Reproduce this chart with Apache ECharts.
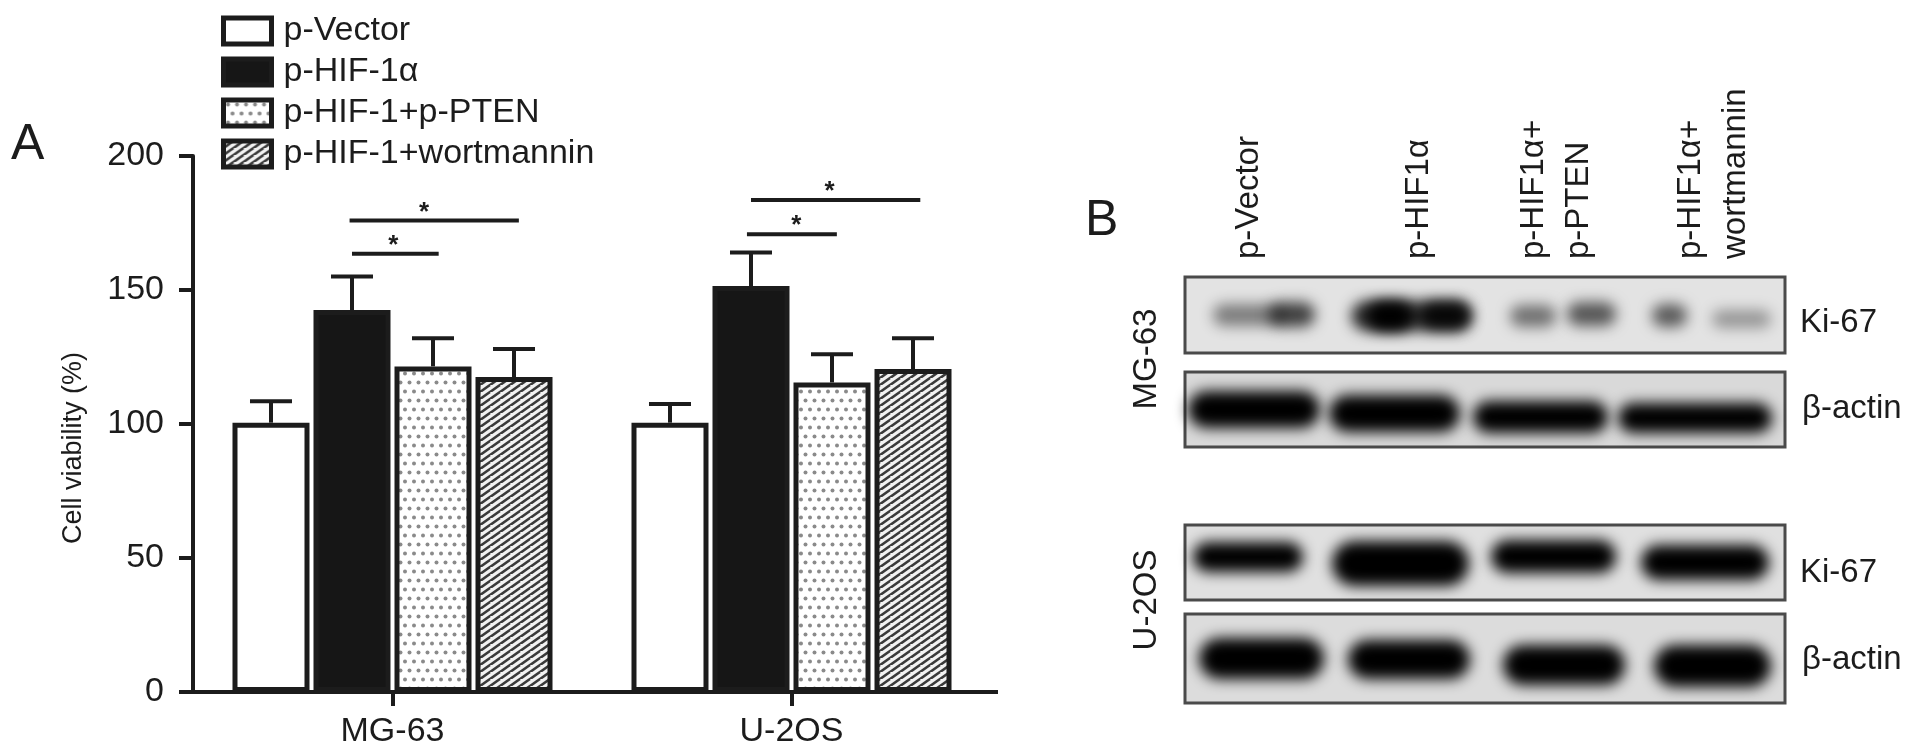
<!DOCTYPE html>
<html>
<head>
<meta charset="utf-8">
<style>html,body{margin:0;padding:0;background:#fff}#c{width:1913px;height:756px}</style>
<script src="https://cdn.jsdelivr.net/npm/echarts@6/dist/echarts.min.js"></script>
</head>
<body>
<div id="c"></div>
<script>
const FONT = '"Liberation Sans", Arial, sans-serif';
const INK = '#1c1c1c';

const categories = ['MG-63', 'U-2OS'];
const seriesNames = ['p-Vector', 'p-HIF-1α', 'p-HIF-1+p-PTEN', 'p-HIF-1+wortmannin'];
const vectorValues = [100.5, 100.5];
const hifValues = [142.5, 151.5];
const ptenValues = [121.5, 115.5];
const wortValues = [117.5, 120.5];
const vectorTops = [108.5, 107.5];
const hifTops = [155, 164];
const ptenTops = [132, 126];
const wortTops = [128, 132];
// [category, fromBar, toBar, value, starBar]
const sigLines = [
  [0, 1.00, 2.07, 163.5, 1.51],
  [0, 0.97, 3.06, 175.9, 1.89],
  [1, 0.95, 2.06, 170.8, 1.56],
  [1, 1.00, 3.09, 183.6, 1.97]
];
// Western blot frames: [x0, y0, x1, y1, grey]
const blotFrames = [
  [0, 0, 600, 76, '#e3e3e3'],
  [0, 95, 600, 170, '#d9d9d9'],
  [0, 248, 600, 323, '#e0e0e0'],
  [0, 337, 600, 426, '#dcdcdc']
];
// Western blot bands: [x0, y0, x1, y1, darkness]
const blotBands = [
  [28, 27, 98, 49, 0.45], [84, 25, 130, 50, 0.72],
  [166, 24, 286, 54, 0.8], [182, 24, 228, 54, 1], [236, 25, 286, 52, 0.85],
  [325, 28, 371, 50, 0.5], [382, 25, 431, 49, 0.62],
  [467, 27, 502, 50, 0.6], [527, 33, 586, 51, 0.34],
  [3, 114, 135, 151, 1], [144, 118, 275, 155, 1], [288, 124, 423, 156, 1], [433, 126, 587, 156, 1],
  [8, 265, 118, 295, 1], [147, 264, 284, 309, 1], [306, 263, 431, 296, 1], [456, 268, 584, 303, 1],
  [14, 361, 139, 402, 1], [163, 363, 285, 402, 1], [318, 368, 440, 408, 1], [469, 368, 586, 410, 1]
];

function dotTile() {
  const c = document.createElement('canvas'); c.width = 18; c.height = 18;
  const g = c.getContext('2d');
  g.fillStyle = '#fff'; g.fillRect(0, 0, 18, 18);
  g.fillStyle = '#8a8a8a';
  [[4.5, 4.5], [13.5, 4.5], [0, 13.5], [9, 13.5], [18, 13.5]].forEach(p => {
    g.beginPath(); g.arc(p[0], p[1], 2, 0, 7); g.fill();
  });
  return c;
}
function hatchTile() {
  const w = 10, h = 7;
  const c = document.createElement('canvas'); c.width = w; c.height = h;
  const g = c.getContext('2d');
  g.fillStyle = '#f2f2f2'; g.fillRect(0, 0, w, h);
  g.strokeStyle = '#3a3a3a'; g.lineWidth = 2.6;
  for (let k = -2; k <= 2; k++) {
    g.beginPath(); g.moveTo(k * w - w, h + h); g.lineTo(k * w + w, 0); g.stroke();
  }
  return c;
}

const fills = ['#ffffff', '#161616', { image: dotTile(), repeat: 'repeat' }, { image: hatchTile(), repeat: 'repeat' }];
const valueSets = [vectorValues, hifValues, ptenValues, wortValues];
const topSets = [vectorTops, hifTops, ptenTops, wortTops];
const BAR = { barWidth: 77, barGap: '5.2%' };

const barSeries = seriesNames.map((n, i) => ({
  name: n, type: 'bar', xAxisIndex: 0, yAxisIndex: 0, barWidth: BAR.barWidth, barGap: BAR.barGap,
  data: valueSets[i],
  itemStyle: { color: fills[i], borderColor: INK, borderWidth: 5 },
  z: 2
}));

const errorSeries = topSets.map((tops, i) => ({
  type: 'custom', xAxisIndex: 0, yAxisIndex: 0, silent: true, z: 1,
  data: tops.map((t, c) => [c, valueSets[i][c], t]),
  renderItem(p, api) {
    const lay = api.barLayout({ count: 4, barWidth: BAR.barWidth, barGap: BAR.barGap });
    const base = api.coord([api.value(0), api.value(1)]);
    const top = api.coord([api.value(0), api.value(2)]);
    const x = base[0] + lay[i].offsetCenter;
    const st = { stroke: INK, lineWidth: 4, fill: null };
    return { type: 'group', children: [
      { type: 'line', shape: { x1: x, y1: base[1], x2: x, y2: top[1] }, style: st },
      { type: 'line', shape: { x1: x - 21, y1: top[1], x2: x + 21, y2: top[1] }, style: st }
    ] };
  }
}));

const sigSeries = {
  type: 'custom', xAxisIndex: 0, yAxisIndex: 0, silent: true, z: 3,
  data: sigLines,
  renderItem(p, api) {
    const lay = api.barLayout({ count: 4, barWidth: BAR.barWidth, barGap: BAR.barGap });
    const pitch = lay[1].offsetCenter - lay[0].offsetCenter;
    const pt = api.coord([api.value(0), api.value(3)]);
    const at = b => pt[0] + lay[0].offsetCenter + b * pitch;
    return { type: 'group', children: [
      { type: 'line', shape: { x1: at(api.value(1)), y1: pt[1], x2: at(api.value(2)), y2: pt[1] },
        style: { stroke: INK, lineWidth: 4, fill: null } },
      { type: 'text', x: at(api.value(4)), y: pt[1] + 5,
        style: { text: '*', font: 'bold 26px ' + FONT, fill: INK, align: 'center', verticalAlign: 'bottom' } }
    ] };
  }
};

const frameSeries = {
  type: 'custom', xAxisIndex: 1, yAxisIndex: 1, silent: true, z: 1,
  data: blotFrames,
  renderItem(p, api) {
    const a = api.coord([api.value(0), api.value(1)]);
    const b = api.coord([api.value(2), api.value(3)]);
    return { type: 'rect', shape: { x: a[0], y: a[1], width: b[0] - a[0], height: b[1] - a[1] },
      style: { fill: blotFrames[p.dataIndex][4], stroke: '#4a4a4a', lineWidth: 3 } };
  }
};
const SHIFT = 4000;
const bandSeries = {
  type: 'custom', xAxisIndex: 1, yAxisIndex: 1, silent: true, z: 2,
  data: blotBands,
  renderItem(p, api) {
    const a = api.coord([api.value(0), api.value(1)]);
    const b = api.coord([api.value(2), api.value(3)]);
    const w = b[0] - a[0], h = b[1] - a[1];
    return { type: 'rect',
      shape: { x: a[0] - SHIFT, y: a[1], width: w, height: h, r: h / 2 },
      style: { fill: '#000', shadowBlur: 14, shadowOffsetX: SHIFT, shadowColor: 'rgba(0,0,0,' + api.value(4) + ')' } };
  }
};

function label(text, x, y, size, rotation, align, verticalAlign) {
  return { type: 'text', x, y, rotation: rotation || 0, silent: true,
    style: { text, font: size + 'px ' + FONT, fill: INK, align: align || 'left', verticalAlign: verticalAlign || 'middle' } };
}

const chart = echarts.init(document.getElementById('c'));
chart.setOption({
  animation: false,
  backgroundColor: '#fff',
  textStyle: { fontFamily: FONT },
  grid: [
    { left: 193, top: 156, width: 798, height: 536 },
    { left: 1185, top: 277, width: 600, height: 426 }
  ],
  xAxis: [
    { type: 'category', gridIndex: 0, data: categories,
      axisLine: { lineStyle: { color: INK, width: 4 } },
      axisTick: { show: true, alignWithLabel: true, length: 14, lineStyle: { color: INK, width: 4 }, interval: 0 },
      axisLabel: { color: INK, fontSize: 34, fontFamily: FONT, margin: 23, interval: 0 } },
    { type: 'value', gridIndex: 1, min: 0, max: 600, show: false }
  ],
  yAxis: [
    { type: 'value', gridIndex: 0, min: 0, max: 200, interval: 50,
      name: 'Cell viability (%)', nameLocation: 'middle', nameGap: 106,
      nameTextStyle: { color: INK, fontSize: 27, fontFamily: FONT, padding: [0, 48, 0, 0] },
      splitLine: { show: false },
      axisLine: { show: true, lineStyle: { color: INK, width: 4 } },
      axisTick: { show: true, length: 14, lineStyle: { color: INK, width: 4 } },
      axisLabel: { color: INK, fontSize: 34, fontFamily: FONT, margin: 29 } },
    { type: 'value', gridIndex: 1, min: 0, max: 426, inverse: true, show: false }
  ],
  legend: {
    data: seriesNames, left: 216, top: 9, orient: 'vertical', align: 'left',
    itemWidth: 48, itemHeight: 26, itemGap: 7, icon: 'rect', selectedMode: false,
    itemStyle: { borderColor: INK, borderWidth: 5 },
    textStyle: { color: INK, fontSize: 34, fontFamily: FONT, padding: [0, 0, 0, 7] }
  },
  graphic: { elements: [
    { type: 'line', silent: true, shape: { x1: 991, y1: 692, x2: 998, y2: 692 }, style: { stroke: INK, lineWidth: 4 } },
    label('A', 11, 145, 50),
    label('B', 1085, 221, 50),
    label('p-Vector', 1249, 259, 33, Math.PI / 2),
    label('p-HIF1α', 1419, 259, 33, Math.PI / 2),
    label('p-HIF1α+', 1534, 259, 33, Math.PI / 2),
    label('p-PTEN', 1579, 259, 33, Math.PI / 2),
    label('p-HIF1α+', 1691, 259, 33, Math.PI / 2),
    label('wortmannin', 1736, 259, 33, Math.PI / 2),
    label('MG-63', 1147, 359, 33, Math.PI / 2, 'center'),
    label('U-2OS', 1147, 600, 33, Math.PI / 2, 'center'),
    label('Ki-67', 1800, 323, 33),
    label('β-actin', 1802, 409, 33),
    label('Ki-67', 1800, 573, 33),
    label('β-actin', 1802, 660, 33)
  ] },
  series: [...errorSeries, ...barSeries, sigSeries, frameSeries, bandSeries]
});
</script>
</body>
</html>
